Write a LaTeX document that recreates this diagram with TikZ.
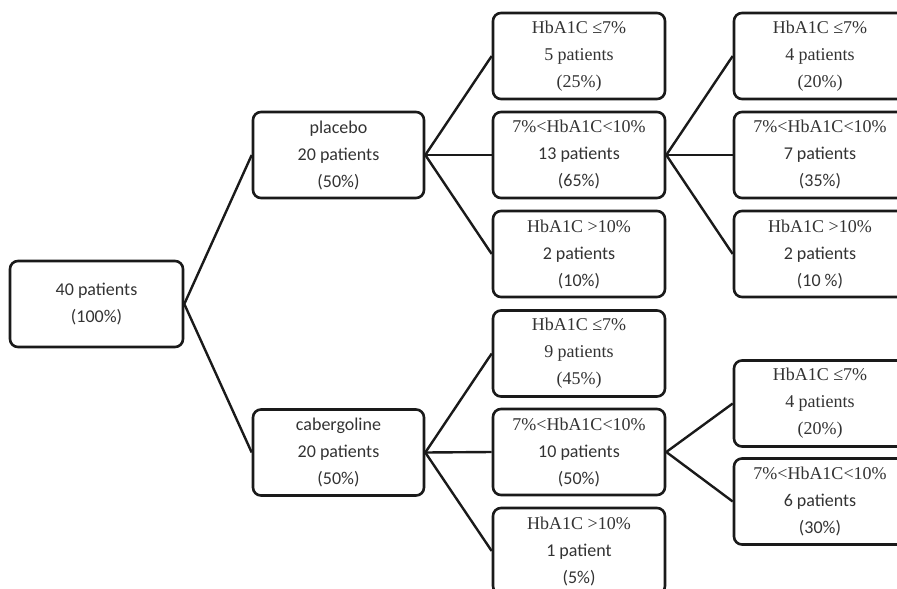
\documentclass[tikz,border=0pt]{standalone}
\usepackage{fontspec}
\setmainfont{Carlito}
\newfontfamily\fcal{Carlito}
\newfontfamily\ftms{Liberation Serif}
\definecolor{txt}{HTML}{333333}
\definecolor{ln}{HTML}{1A1A1A}
\begin{document}
\begin{tikzpicture}[x=1pt,y=-1pt,
  box/.style={draw=ln, line width=2.6pt, rounded corners=8pt, rectangle,
    minimum width=172pt, minimum height=86pt, inner sep=0pt, align=center,
    text=txt, font=\fcal\fontsize{18}{27}\selectfont},
  link/.style={draw=ln, line width=2.4pt}]
\useasboundingbox (0,0) rectangle (897,589);
\clip (0,0) rectangle (897,589);
\fill[white] (0,0) rectangle (897,589);
% root
\node[box, minimum width=173pt] (root) at (96.5,304) {40 patients\\(100\%)};
% level 1
\node[box, minimum width=171pt] (pla) at (338.5,155) {placebo\\20 patients\\(50\%)};
\node[box, minimum width=171pt] (cab) at (338.5,452.5) {cabergoline\\20 patients\\(50\%)};
% level 2 (placebo)
\node[box] (p1) at (579,56) {\ftms HbA1C ≤7\%\\\ftms 5 patients\\\ftms (25\%)};
\node[box] (p2) at (579,155) {\ftms 7\%<HbA1C<10\%\\13 patients\\(65\%)};
\node[box] (p3) at (579,254) {\ftms HbA1C >10\%\\2 patients\\(10\%)};
% level 2 (cabergoline)
\node[box] (c1) at (579,353.5) {\ftms HbA1C ≤7\%\\\ftms 9 patients\\\ftms (45\%)};
\node[box] (c2) at (579,452) {\ftms 7\%<HbA1C<10\%\\10 patients\\(50\%)};
\node[box] (c3) at (579,551) {\ftms HbA1C >10\%\\1 patient\\(5\%)};
% level 3
\node[box] (p21) at (820,56) {\ftms HbA1C ≤7\%\\\ftms 4 patients\\\ftms (20\%)};
\node[box] (p22) at (820,155) {\ftms 7\%<HbA1C<10\%\\7 patients\\(35\%)};
\node[box] (p23) at (820,254) {\ftms HbA1C >10\%\\2 patients\\(10 \%)};
\node[box] (c21) at (820,403.5) {\ftms HbA1C ≤7\%\\\ftms 4 patients\\\ftms (20\%)};
\node[box] (c22) at (820,501.5) {\ftms 7\%<HbA1C<10\%\\6 patients\\(30\%)};
% connectors
\draw[link] (root.east) -- (pla.west);
\draw[link] (root.east) -- (cab.west);
\foreach \c in {p1,p2,p3} \draw[link] (pla.east) -- (\c.west);
\foreach \c in {c1,c2,c3} \draw[link] (cab.east) -- (\c.west);
\foreach \c in {p21,p22,p23} \draw[link] (p2.east) -- (\c.west);
\foreach \c in {c21,c22} \draw[link] (c2.east) -- (\c.west);
\end{tikzpicture}
\end{document}
